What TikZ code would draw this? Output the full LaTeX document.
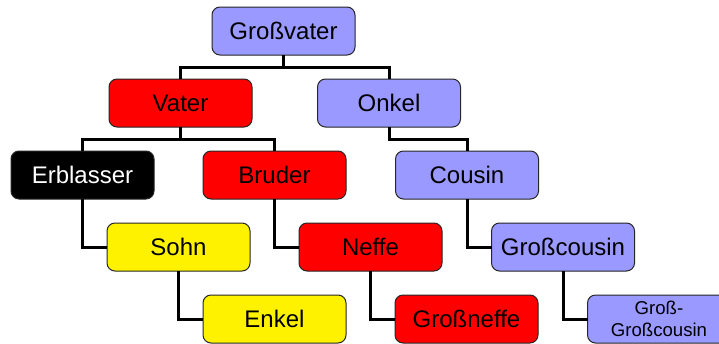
\documentclass[tikz,border=0pt]{standalone}
\usepackage{fontspec}
\setmainfont{Liberation Sans}
\usetikzlibrary{positioning}
\definecolor{lila}{RGB}{153,153,255}
\tikzstyle{boite} = [draw=black!85, line width=1pt, rounded corners=8pt, outer sep=0pt, minimum width=143pt, minimum height=48pt, inner sep=2pt, font=\fontsize{24}{28}\selectfont]
\tikzstyle{trait} = [-, line width=3pt]

\begin{document}
\begin{tikzpicture}[x=1pt,y=1pt]
	\useasboundingbox (0,0) rectangle (719,-343);

	%% Generationen
	\node [boite, fill=lila] (GV) at (283.5,-31) {Großvater};

	\node [boite, fill=red, below=24pt of GV, xshift=-103pt] (Vater) {Vater};
	\node [boite, fill=lila, below=24pt of GV, xshift=105.5pt] (Onkel) {Onkel};

	\node [boite, fill=black, text=white, below=24pt of Vater, xshift=-98pt] (Erb) {Erblasser};
	\node [boite, fill=red, below=24pt of Vater, xshift=94pt] (Bruder) {Bruder};
	\node [boite, fill=lila, below=24pt of Onkel, xshift=78pt] (Cousin) {Cousin};

	\node [boite, fill=yellow, below=24pt of Erb, xshift=96pt] (Sohn) {Sohn};
	\node [boite, fill=red, below=24pt of Bruder, xshift=96pt] (Neffe) {Neffe};
	\node [boite, fill=lila, below=24pt of Cousin, xshift=96pt] (GC) {Großcousin};

	\node [boite, fill=yellow, below=24pt of Sohn, xshift=96pt] (Enkel) {Enkel};
	\node [boite, fill=red, below=24pt of Neffe, xshift=96pt] (GN) {Großneffe};
	\node [boite, fill=lila, align=center, font=\fontsize{18.6}{22}\selectfont, below=24pt of GC, xshift=96pt] (GGC) {Groß-\\Großcousin};

	%% Verbindungen
	\draw [trait] (GV.south) -- ++(0,-12) -| (Vater.north);
	\draw [trait] (GV.south) -- ++(0,-12) -| (Onkel.north);
	\draw [trait] (Vater.south) -- ++(0,-12) -| (Erb.north);
	\draw [trait] (Vater.south) -- ++(0,-12) -| (Bruder.north);
	\draw [trait] (Onkel.south) -- ++(0,-12) -| (Cousin.north);

	\draw [trait] (Erb.south) |- (Sohn.west);
	\draw [trait] (Bruder.south) |- (Neffe.west);
	\draw [trait] (Cousin.south) |- (GC.west);
	\draw [trait] (Sohn.south) |- (Enkel.west);
	\draw [trait] (Neffe.south) |- (GN.west);
	\draw [trait] (GC.south) |- (GGC.west);

\end{tikzpicture}
\end{document}
